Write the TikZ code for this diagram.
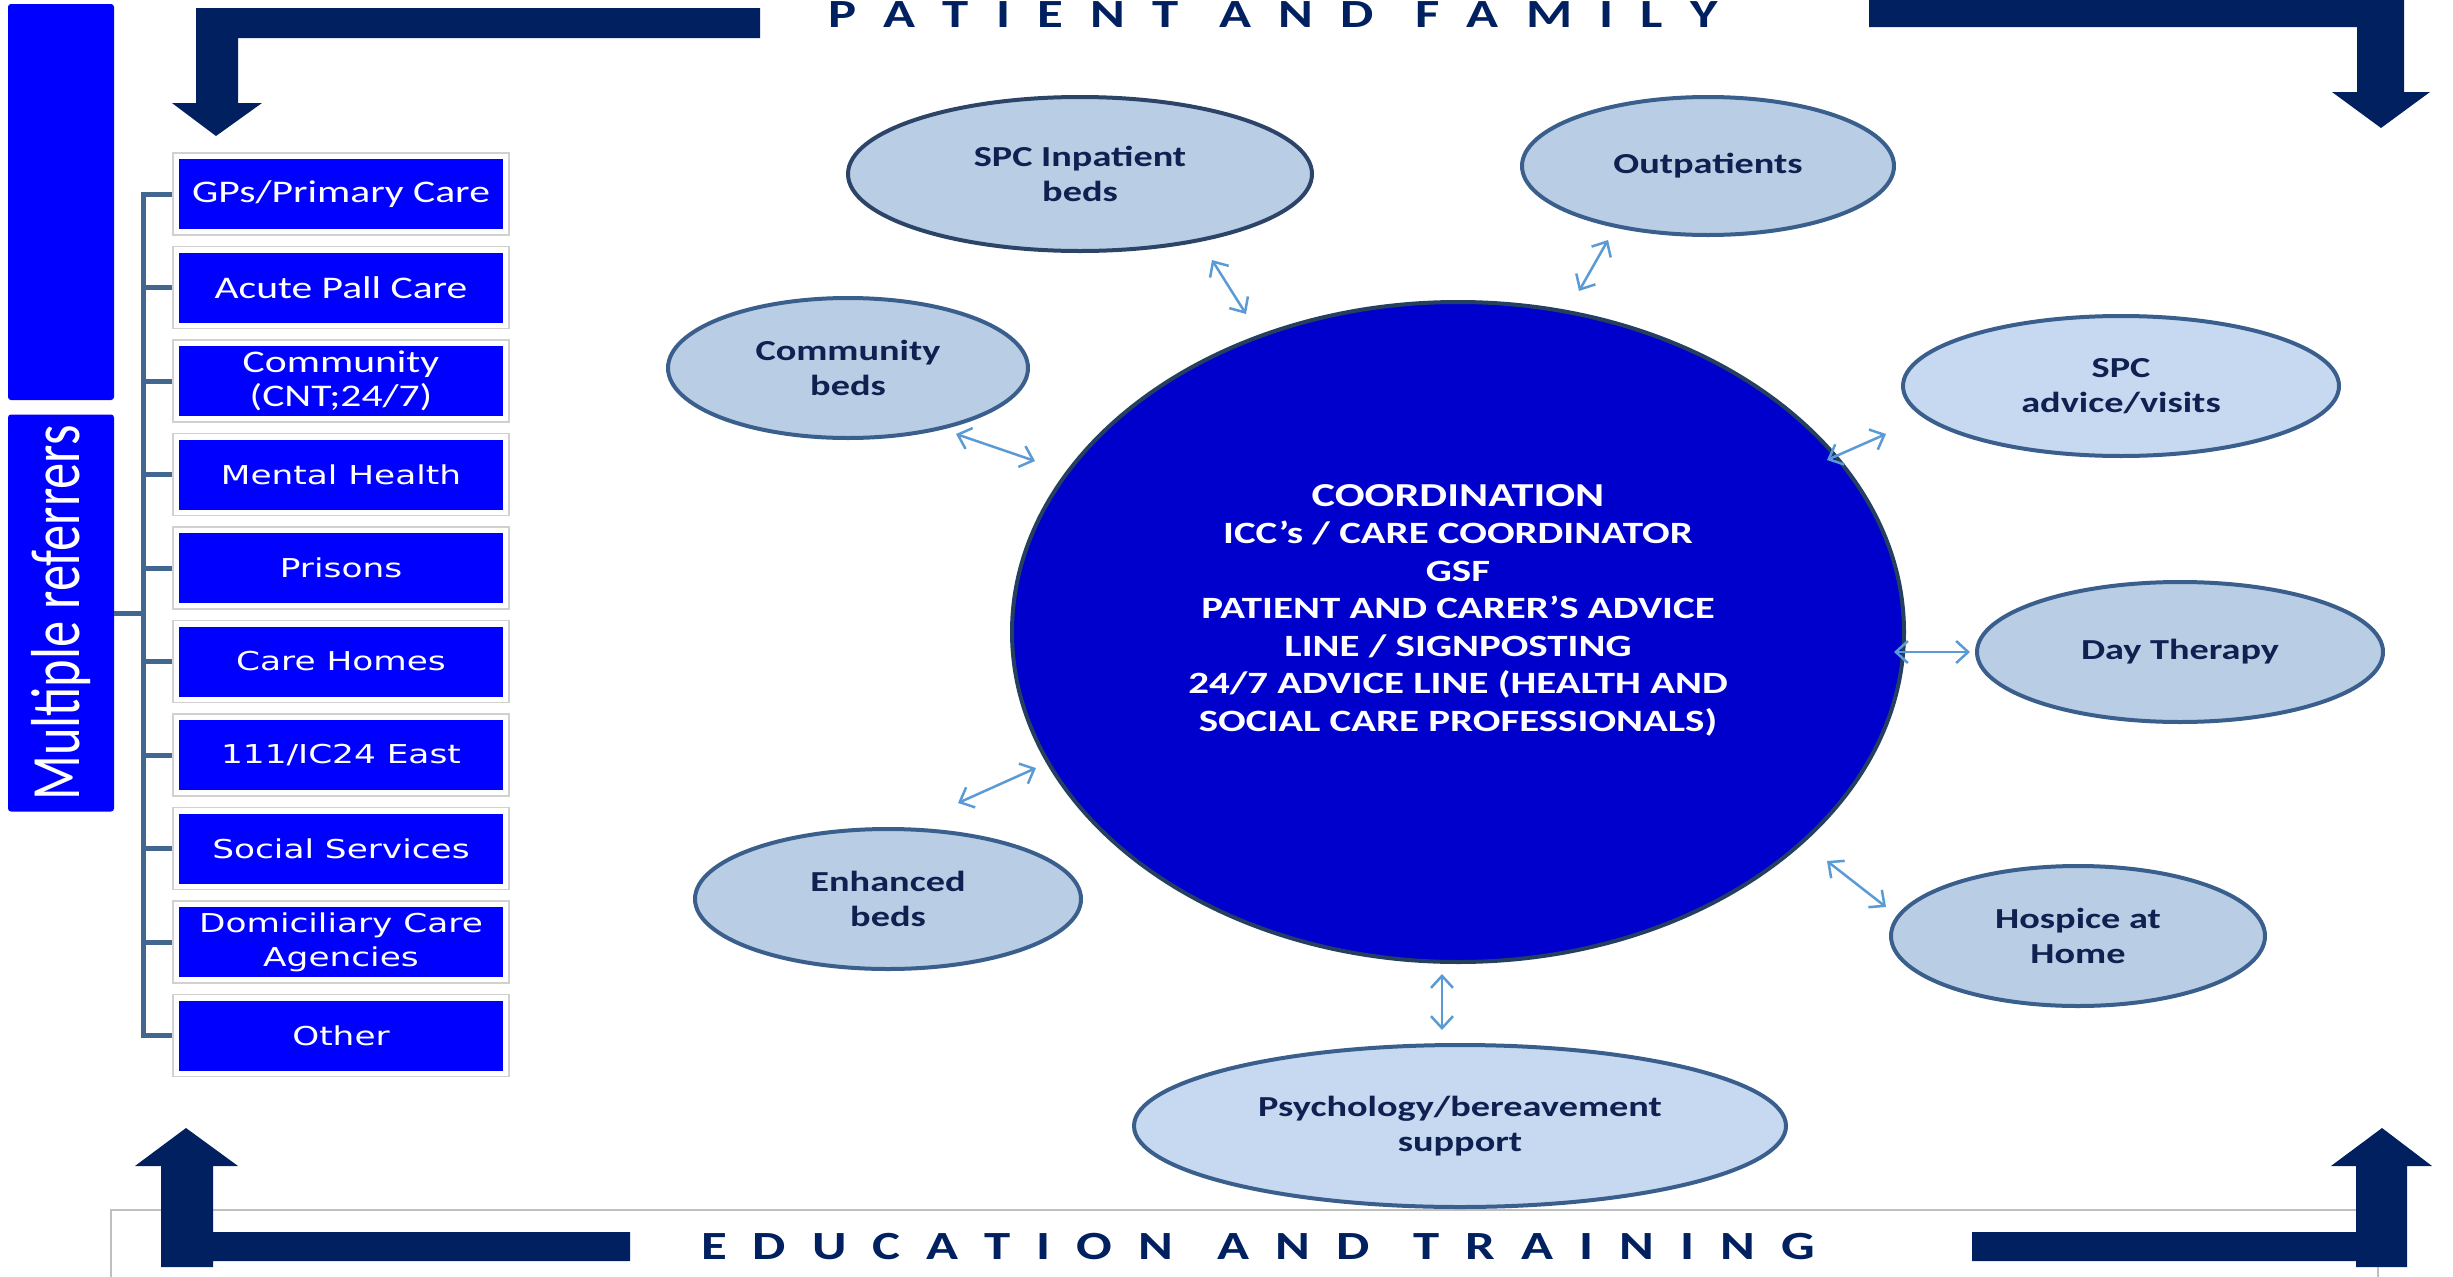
\documentclass[tikz,border=0pt]{standalone}
\usepackage{graphicx}
\usepackage{fontspec}
\setmainfont{Carlito}
\newfontfamily\calst[FakeStretch=1.32]{Carlito}
\newfontfamily\dvsst[FakeStretch=1.32]{DejaVu Sans}
\usetikzlibrary{shapes.geometric,arrows.meta}
\definecolor{pureblue}{HTML}{0000FF}
\definecolor{navy}{HTML}{002060}
\definecolor{circfill}{HTML}{0000CC}
\definecolor{circborder}{HTML}{243F60}
\definecolor{ellfill}{HTML}{B9CDE5}
\definecolor{ellfilltwo}{HTML}{C6D9F1}
\definecolor{ellborder}{HTML}{3A5F8C}
\definecolor{ellborderdark}{HTML}{2B4468}
\definecolor{elltext}{HTML}{0F2150}
\definecolor{treeline}{HTML}{41668F}
\definecolor{arrblue}{HTML}{5B9BD5}
\begin{document}
\begin{tikzpicture}[x=1pt,y=-1pt,
  refbox/.style={draw=black!18, line width=1.5, fill=white, minimum width=336, minimum height=82, inner sep=0,
    text=white, align=center,
    path picture={\fill[pureblue] ([shift={(6pt,-6pt)}]path picture bounding box.north west) rectangle ([shift={(-6pt,6pt)}]path picture bounding box.south east);}},
  fcal/.style={font=\calst\fontsize{31.5}{34}\selectfont},
  fdv/.style={font=\dvsst\fontsize{26}{34}\selectfont},
  tree/.style={draw=treeline, line width=5},
  ell/.style={ellipse, draw=ellborder, line width=4, fill=ellfill, inner sep=0, text=elltext, align=center,
    font=\calst\bfseries\fontsize{29}{35}\selectfont},
  sarr/.style={draw=arrblue, line width=2.5, {Straight Barb[length=12pt,width=22pt]}-{Straight Barb[length=12pt,width=22pt]}},
  title/.style={text=navy, inner sep=0, anchor=base, font=\calst\bfseries\fontsize{40}{40}\selectfont}
]
\useasboundingbox (0,0) rectangle (2453,1277);
\fill[white] (0,0) rectangle (2453,1277);

% bottom thin frame
\draw[black!25, line width=1.5] (111,1300) -- (111,1210) -- (2378,1210) -- (2378,1300);

% navy arrows
\fill[navy] (196,8) -- (760,8) -- (760,38) -- (238,38) -- (238,103) -- (262,103) -- (216,136) -- (172,103) -- (196,103) -- cycle;
\fill[navy] (1869,0) -- (2404,0) -- (2404,92) -- (2430,92) -- (2381,128) -- (2332,92) -- (2357,92) -- (2357,27) -- (1869,27) -- cycle;
\fill[navy] (161,1267) -- (161,1166) -- (135,1166) -- (186,1128) -- (238,1166) -- (213,1166) -- (213,1232) -- (630,1232) -- (630,1261) -- (213,1261) -- (213,1267) -- cycle;
\fill[navy] (1972,1232) -- (2356,1232) -- (2356,1166) -- (2331,1166) -- (2382,1128) -- (2432,1166) -- (2407,1166) -- (2407,1267) -- (2356,1267) -- (2356,1261) -- (1972,1261) -- cycle;

% titles
\node[title] (pf) at (1273,27) {\makebox[889pt][s]{P\hfill A\hfill T\hfill I\hfill E\hfill N\hfill T\hfill\hspace{14pt}A\hfill N\hfill D\hfill\hspace{14pt}F\hfill A\hfill M\hfill I\hfill L\hfill Y}};
\node[title] (et) at (1258,1259) {\makebox[1114pt][s]{E\hfill D\hfill U\hfill C\hfill A\hfill T\hfill I\hfill O\hfill N\hfill\hspace{18pt}A\hfill N\hfill D\hfill\hspace{18pt}T\hfill R\hfill A\hfill I\hfill N\hfill I\hfill N\hfill G}};

% left blue bars
\fill[pureblue, rounded corners=3] (8,4) rectangle (114,400);
\node[fill=pureblue, rounded corners=3, minimum width=106, minimum height=397, inner sep=0, text=white] (mr) at (61,613)
  {\rotatebox{90}{\scalebox{1}[1.32]{\fontsize{52.5}{52}\selectfont Multiple referrers}}};

% referrer boxes
\node[refbox,fcal] (b1) at (341,194) {GPs/Primary Care};
\node[refbox,fcal] (b2) at (341,287.5) {Acute Pall Care};
\node[refbox,fcal] (b3) at (341,381) {Community\\(CNT;24/7)};
\node[refbox,fdv] (b4) at (341,474.5) {Mental Health};
\node[refbox,fdv] (b5) at (341,568) {Prisons};
\node[refbox,fdv] (b6) at (341,661.5) {Care Homes};
\node[refbox,fdv] (b7) at (341,755) {111/IC24 East};
\node[refbox,fdv] (b8) at (341,848.5) {Social Services};
\node[refbox,fdv] (b9) at (341,942) {Domiciliary Care\\Agencies};
\node[refbox,fdv] (b10) at (341,1035.5) {Other};

% tree
\coordinate (trunk) at (144,613);
\draw[tree] (b1.west) -- ++(-29,0) |- (b10.west);
\foreach \i in {2,...,9} {\draw[tree] (b\i.west) -- (b\i.west -| trunk);}
\draw[tree] (mr.east) -- (trunk);

% central circle
\node[ellipse, fill=circfill, draw=circborder, line width=4, minimum width=892, minimum height=660, inner sep=0] (coord) at (1458,632) {};
\node[text=white, align=center, inner sep=0, font=\calst\bfseries\fontsize{31}{37.5}\selectfont] (ctext) at (1458,610)
  {{\fontsize{33.5}{39}\selectfont COORDINATION}\\ICC’s / CARE COORDINATOR\\GSF\\PATIENT AND CARER’S ADVICE\\LINE / SIGNPOSTING\\24/7 ADVICE LINE (HEALTH AND\\SOCIAL CARE PROFESSIONALS)};

% satellite ellipses
\node[ell, draw=ellborderdark, minimum width=464, minimum height=154] (inpat) at (1080,174) {SPC Inpatient\\beds};
\node[ell, minimum width=372, minimum height=138] (outpat) at (1708,166) {Outpatients};
\node[ell, minimum width=360, minimum height=140] (commbeds) at (848,368) {Community\\beds};
\node[ell, fill=ellfilltwo, minimum width=436, minimum height=140] (advice) at (2121,386) {SPC\\advice/visits};
\node[ell, minimum width=406, minimum height=140] (dayth) at (2180,652) {Day Therapy};
\node[ell, minimum width=386, minimum height=140] (enh) at (888,899) {Enhanced\\beds};
\node[ell, minimum width=374, minimum height=140] (hosp) at (2078,936) {Hospice at\\Home};
\node[ell, fill=ellfilltwo, minimum width=652, minimum height=162] (psych) at (1460,1126) {Psychology/bereavement\\support};

% small double arrows
\coordinate (a1s) at (1212,260); \coordinate (a1e) at (1246,314);
\coordinate (a2s) at (1608,240); \coordinate (a2e) at (1579,291);
\coordinate (a3s) at (956,434);  \coordinate (a3e) at (1035,461);
\coordinate (a4s) at (1886,434); \coordinate (a4e) at (1827,460);
\coordinate (a5s) at (1970,652); \coordinate (a5e) at (1894,652);
\coordinate (a6s) at (1886,907); \coordinate (a6e) at (1827,861);
\coordinate (a7s) at (958,803);  \coordinate (a7e) at (1036,768);
\coordinate (a8s) at (1442,1030); \coordinate (a8e) at (1442,974);
\foreach \i in {1,...,8} {\draw[sarr] (a\i s) -- (a\i e);}
\end{tikzpicture}
\end{document}
